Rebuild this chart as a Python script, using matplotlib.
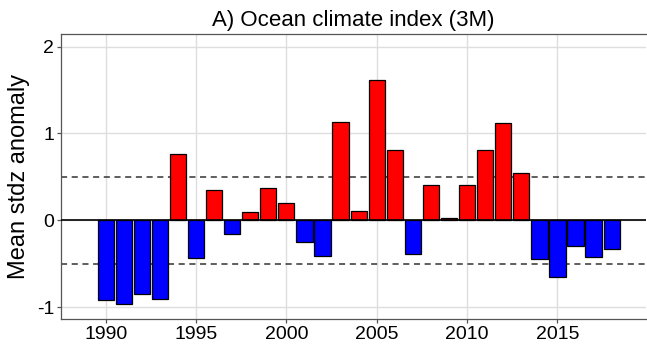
import matplotlib.pyplot as plt
import numpy as np

plt.rcParams['font.family'] = ['Liberation Sans', 'DejaVu Sans']

years = np.arange(1990, 2019)
anomaly = [-0.92, -0.96, -0.85, -0.91, 0.76, -0.44, 0.35, -0.16, 0.09, 0.37,
           0.20, -0.25, -0.41, 1.13, 0.11, 1.61, 0.81, -0.39, 0.40, 0.03,
           0.41, 0.81, 1.12, 0.54, -0.45, -0.65, -0.30, -0.42, -0.33]
xticks = [1990, 1995, 2000, 2005, 2010, 2015]
yticks = [-1, 0, 1, 2]
ytick_labels = ['-1', '0', '1', '2']

colors = ['red' if v > 0 else 'blue' for v in anomaly]

fig = plt.figure(figsize=(6.47, 3.51), dpi=100)
ax = fig.add_axes([61 / 647, 1 - 319 / 351, (646 - 61) / 647, (319 - 34) / 351])

ax.bar(years, anomaly, width=0.9, color=colors, edgecolor='black', linewidth=0.9, zorder=3)
ax.axhline(0, color='black', linewidth=1.2, zorder=4)
for h in (0.5, -0.5):
    ax.axhline(h, color='#333333', linewidth=1.1, linestyle=(0, (4, 3)), zorder=2)

ax.set_xlim(1987.53, 2019.9)
ax.set_ylim(-1.138, 2.145)
ax.set_xticks(xticks)
ax.set_yticks(yticks)
ax.set_yticklabels(ytick_labels)
ax.grid(True, color='#dedede', linewidth=1.0, zorder=0)
ax.set_axisbelow(True)

for side in ('left', 'bottom', 'top'):
    ax.spines[side].set_color('#555555')
    ax.spines[side].set_linewidth(0.9)
ax.spines['right'].set_visible(False)
ax.tick_params(axis='both', colors='#555555', labelcolor='black', labelsize=14,
               length=3, width=0.9, pad=2)

ax.set_ylabel('Mean stdz anomaly', fontsize=17, labelpad=5)
ax.set_title('A) Ocean climate index (3M)', fontsize=16, pad=6)

fig.savefig('out.png', dpi=100)
